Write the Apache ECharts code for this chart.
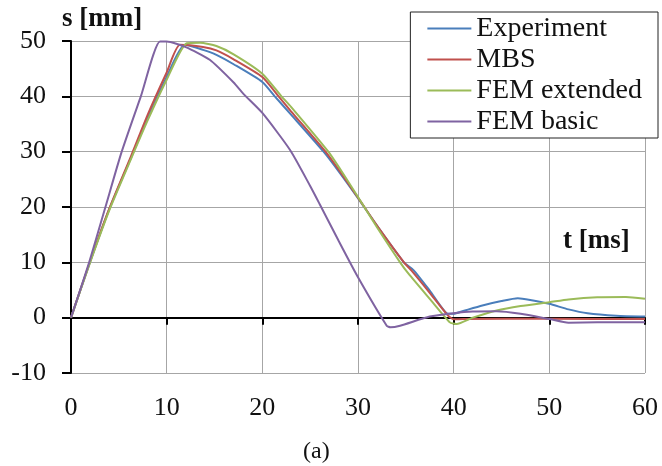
<!DOCTYPE html>
<html>
<head>
<meta charset="utf-8">
<title>s(t)</title>
<script src="https://cdn.jsdelivr.net/npm/echarts@6/dist/echarts.min.js"></script>
<style>
  html, body { margin: 0; padding: 0; background: #fff; }
  #chart { width: 662px; height: 466px; }
</style>
</head>
<body>
<div id="chart"></div>
<script>
// values: [t in ms, s in mm]
var seriesNames = ['Experiment', 'MBS', 'FEM extended', 'FEM basic'];
var xTicks = [0, 10, 20, 30, 40, 50, 60];
var yTicks = [-10, 0, 10, 20, 30, 40, 50];

var experiment = [[0,0],[2,10.1],[4,19.6],[6.3,29],[8,36],[10,43.5],[11.9,49.3],[13.8,48.4],[15.2,47.5],
  [17,45.8],[20,42.6],[21.3,40],[23,36.7],[26.4,30],[28,26.4],[30,21.6],[32,16.6],[34.8,10],[35.8,8.6],
  [37.5,4.9],[39.3,0.8],[40,0.7],[41,1.2],[43,2.2],[45,3],[46.7,3.5],[48,3.2],[50,2.5],[52,1.5],[54,0.8],
  [57,0.36],[60,0.2]];
var mbs = [[0,0],[2,10.2],[4,19.7],[6.3,29.3],[8,36.6],[10,44.3],[11.4,49.3],[13.8,48.9],[15.2,48.3],[17,46.7],
  [20,43.5],[21.7,40],[23,37.3],[26.6,30],[28,26.7],[30,21.7],[32,16.6],[34.8,10],[35.6,8.5],[37.5,4.5],
  [39.4,0.4],[40,-0.3],[41,-0.25],[50,-0.2],[60,-0.25]];
var femExtended = [[0,0],[2,10],[4,19.4],[6.3,28.8],[8,35.6],[10,43],[12.1,49.6],[13.5,49.7],[15.2,49.1],
  [17,47.6],[20,44.1],[22,40],[23,38.1],[26.9,30],[28,27.2],[30,21.8],[32,16.3],[34.4,10],[35.3,7.9],
  [37.5,3.4],[39.6,-0.85],[40.3,-1.15],[42,0],[44.5,1.3],[47,2.1],[50,2.8],[52,3.3],[55,3.7],[58,3.75],[60,3.4]];
var femBasic = [[0,0],[1.9,10],[3.6,20],[5.3,30],[7.3,40],[9.3,49.9],[10,49.9],[12,48.9],[14.5,46.6],[17,42.5],
  [18,40.5],[20,37],[22.9,30.3],[25,23.8],[26,20.5],[28,13.8],[30,7.3],[33,-1.45],[33.4,-1.75],[34.4,-1.45],
  [37.5,0.2],[40,0.8],[42,1.1],[44.5,1.15],[47,0.7],[50,-0.25],[52,-0.9],[55,-0.85],[60,-0.85]];

var colors = ['#4a7ebb', '#c0504d', '#9bbb59', '#7f63a1'];
var serif = 'Liberation Serif';
var chart = echarts.init(document.getElementById('chart'));

function line(name, data, color) {
  return {
    name: name,
    type: 'line',
    xAxisIndex: 0,
    data: data,
    smooth: 0.2,
    symbol: 'none',
    lineStyle: { color: color, width: 2 },
    itemStyle: { color: color }
  };
}

var option = {
  animation: false,
  title: [
    { text: 's [mm]', left: 62, top: 6, padding: 0,
      textStyle: { fontFamily: serif, fontWeight: 'bold', fontSize: 27, color: '#111' } },
    { text: 't [ms]', left: 563, top: 228, padding: 0,
      textStyle: { fontFamily: serif, fontWeight: 'bold', fontSize: 27, color: '#111' } },
    { text: '(a)', left: 303, top: 440, padding: 0,
      textStyle: { fontFamily: serif, fontWeight: 'normal', fontSize: 24, color: '#111' } }
  ],
  legend: {
    data: seriesNames,
    orient: 'vertical',
    right: 4,
    top: 12,
    padding: [1, 16, 1, 17],
    itemGap: 0,
    icon: 'rect',
    itemWidth: 44,
    itemHeight: 2,
    backgroundColor: '#fff',
    borderColor: '#222',
    borderWidth: 1,
    borderRadius: 0,
    textStyle: { fontFamily: serif, fontSize: 28, color: '#111', lineHeight: 31 }
  },
  grid: {
    left: 71, right: 17, top: 41, bottom: 93,
    containLabel: false,
    outerBoundsMode: 'none'
  },
  xAxis: [{
    // labels + vertical grid lines
    type: 'value',
    position: 'bottom',
    min: xTicks[0],
    max: xTicks[xTicks.length - 1],
    interval: 10,
    axisLine: { show: false, onZero: false },
    axisTick: { show: false },
    axisLabel: { margin: 22, fontFamily: serif, fontSize: 26, color: '#111' },
    splitLine: { show: true, lineStyle: { color: '#a6a6a6', width: 1 } }
  }, {
    // black line on s = 0 with the small ticks
    type: 'value',
    position: 'bottom',
    min: xTicks[0],
    max: xTicks[xTicks.length - 1],
    interval: 10,
    axisLine: { show: true, onZero: true, lineStyle: { color: '#000', width: 2 } },
    axisTick: { show: true, length: 7, lineStyle: { color: '#000', width: 2 } },
    axisLabel: { show: false },
    splitLine: { show: false }
  }],
  yAxis: {
    type: 'value',
    min: yTicks[0],
    max: yTicks[yTicks.length - 1],
    interval: 10,
    axisLine: { show: true, onZero: false, lineStyle: { color: '#000', width: 2 } },
    axisTick: { show: true, length: 9, lineStyle: { color: '#000', width: 2 } },
    axisLabel: { margin: 25, fontFamily: serif, fontSize: 26, color: '#111' },
    splitLine: { show: true, lineStyle: { color: '#a6a6a6', width: 1 } }
  },
  series: [
    line(seriesNames[0], experiment, colors[0]),
    line(seriesNames[1], mbs, colors[1]),
    line(seriesNames[2], femExtended, colors[2]),
    line(seriesNames[3], femBasic, colors[3])
  ]
};
chart.setOption(option);
</script>
</body>
</html>
